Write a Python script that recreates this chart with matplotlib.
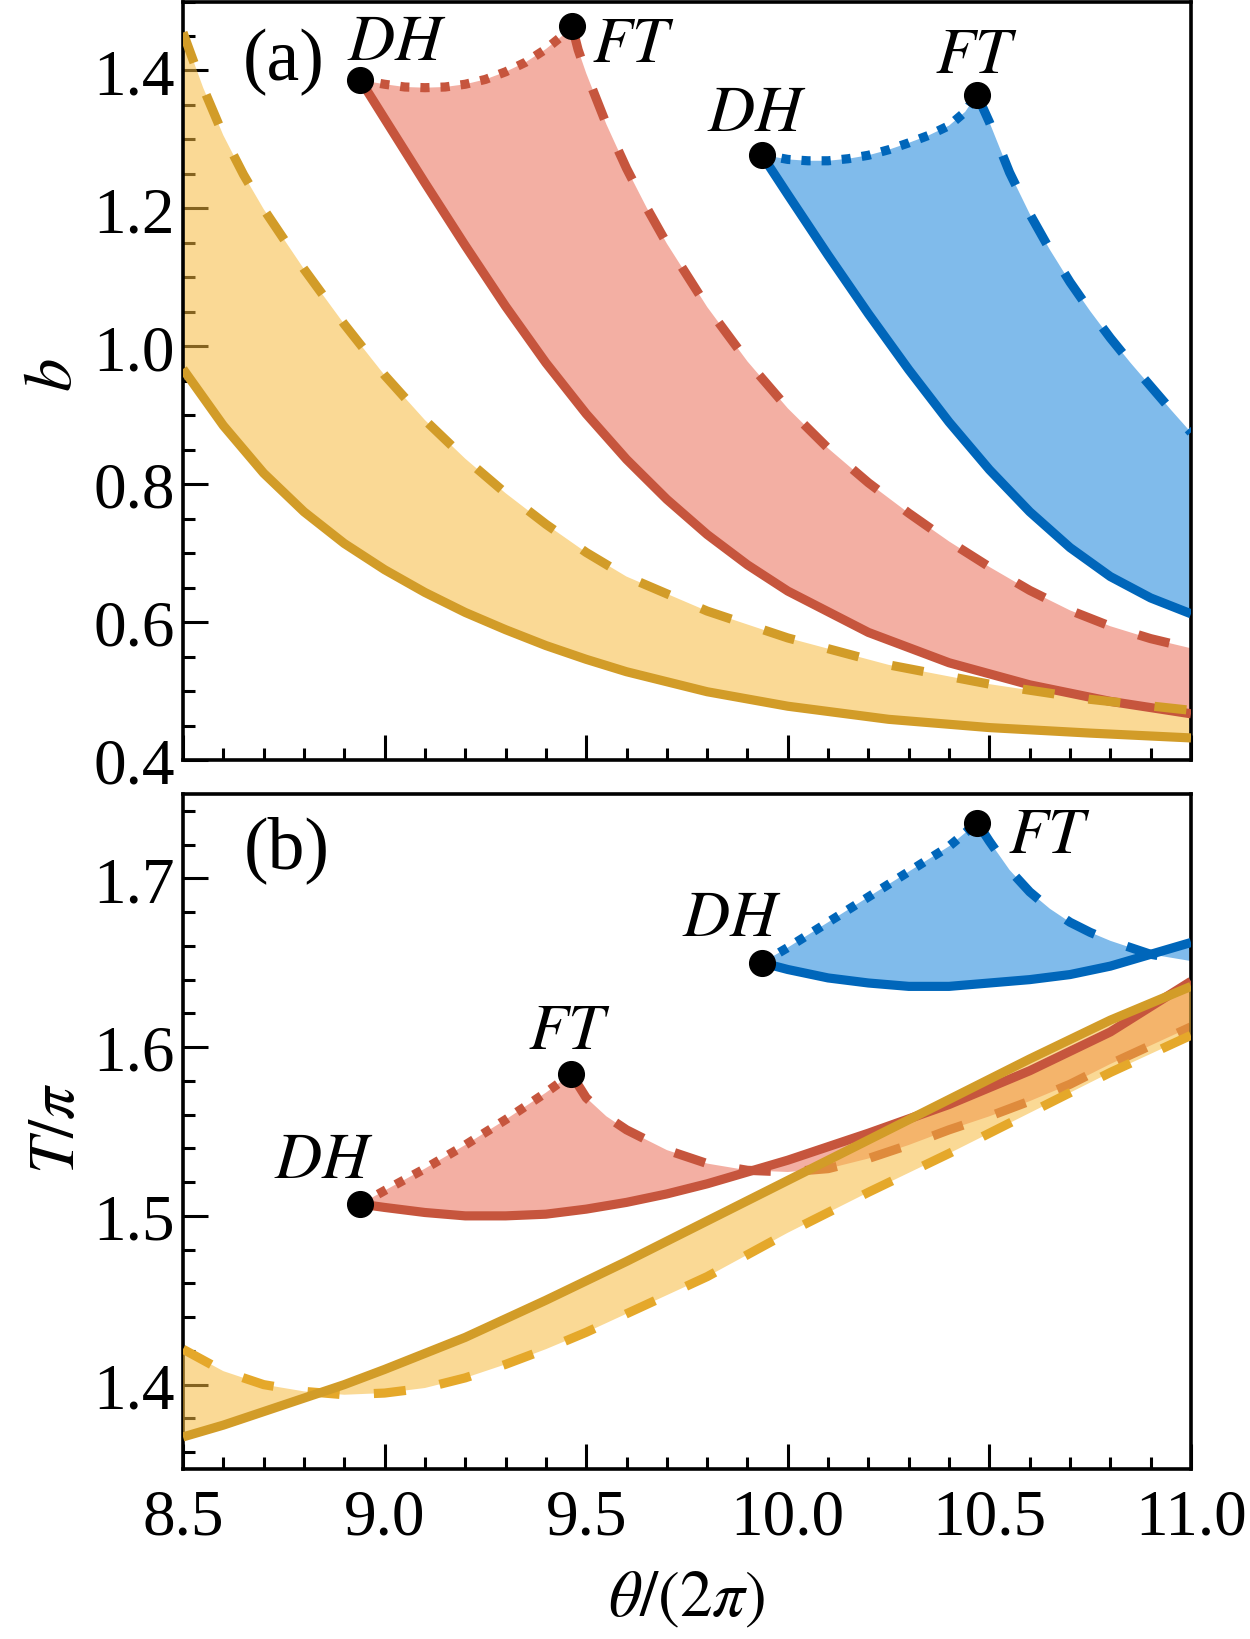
import numpy as np
import matplotlib
matplotlib.use("Agg")
import matplotlib.pyplot as plt
from matplotlib.ticker import MultipleLocator, FormatStrFormatter

plt.rcParams['font.family'] = ['Liberation Serif', 'STIXGeneral', 'DejaVu Serif']
plt.rcParams['mathtext.fontset'] = 'stix'

# ---------------- data: panel (a) ----------------
a_yel_solid_x = [8.5, 8.6, 8.7, 8.8, 8.9, 9.0, 9.1, 9.2, 9.3, 9.4, 9.5, 9.6, 9.8, 10.0, 10.25, 10.5, 10.75, 11.0]
a_yel_solid_y = [0.967, 0.885, 0.816, 0.760, 0.714, 0.676, 0.643, 0.614, 0.589, 0.566, 0.546, 0.528, 0.499, 0.478, 0.459, 0.447, 0.439, 0.432]
a_yel_dash_x = [8.5, 8.55, 8.6, 8.65, 8.7, 8.8, 8.9, 9.0, 9.1, 9.2, 9.3, 9.4, 9.5, 9.6, 9.8, 10.0, 10.25, 10.5, 10.75, 11.0]
a_yel_dash_y = [1.455, 1.375, 1.306, 1.249, 1.199, 1.112, 1.032, 0.958, 0.893, 0.837, 0.787, 0.742, 0.701, 0.666, 0.616, 0.577, 0.538, 0.510, 0.488, 0.472]

a_red_solid_x = [8.94, 9.0, 9.1, 9.2, 9.3, 9.4, 9.5, 9.6, 9.7, 9.8, 9.9, 10.0, 10.2, 10.4, 10.6, 10.8, 11.0]
a_red_solid_y = [1.386, 1.330, 1.237, 1.146, 1.058, 0.976, 0.902, 0.836, 0.778, 0.727, 0.683, 0.645, 0.585, 0.541, 0.509, 0.485, 0.467]
a_red_dot_x = [8.94, 9.0, 9.05, 9.1, 9.15, 9.2, 9.25, 9.3, 9.35, 9.4, 9.44, 9.465]
a_red_dot_y = [1.386, 1.380, 1.376, 1.375, 1.376, 1.380, 1.387, 1.398, 1.412, 1.431, 1.450, 1.464]
a_red_dash_x = [9.465, 9.48, 9.5, 9.55, 9.6, 9.65, 9.7, 9.8, 9.9, 10.0, 10.1, 10.2, 10.3, 10.4, 10.5, 10.6, 10.7, 10.8, 10.9, 11.0]
a_red_dash_y = [1.464, 1.430, 1.396, 1.322, 1.258, 1.201, 1.149, 1.057, 0.978, 0.910, 0.852, 0.802, 0.758, 0.717, 0.680, 0.646, 0.617, 0.594, 0.576, 0.562]

a_blu_solid_x = [9.935, 10.0, 10.1, 10.2, 10.3, 10.4, 10.5, 10.6, 10.7, 10.8, 10.9, 11.0]
a_blu_solid_y = [1.278, 1.220, 1.132, 1.047, 0.966, 0.890, 0.821, 0.760, 0.708, 0.666, 0.635, 0.612]
a_blu_dot_x = [9.935, 10.0, 10.05, 10.1, 10.15, 10.2, 10.25, 10.3, 10.35, 10.4, 10.44, 10.469]
a_blu_dot_y = [1.278, 1.271, 1.269, 1.269, 1.272, 1.277, 1.285, 1.295, 1.306, 1.320, 1.340, 1.365]
a_blu_dash_x = [10.469, 10.5, 10.55, 10.6, 10.65, 10.7, 10.75, 10.8, 10.85, 10.9, 10.95, 11.0]
a_blu_dash_y = [1.365, 1.325, 1.252, 1.192, 1.140, 1.093, 1.051, 1.012, 0.976, 0.942, 0.908, 0.875]

# ---------------- data: panel (b) ----------------
b_yel_solid_x = [8.5, 8.6, 8.7, 8.8, 8.9, 9.0, 9.2, 9.4, 9.6, 9.8, 10.0, 10.2, 10.4, 10.6, 10.8, 11.0]
b_yel_solid_y = [1.369, 1.376, 1.384, 1.392, 1.400, 1.409, 1.428, 1.450, 1.473, 1.497, 1.521, 1.545, 1.569, 1.593, 1.616, 1.636]
b_yel_dash_x = [8.5, 8.6, 8.7, 8.8, 8.9, 9.0, 9.1, 9.2, 9.3, 9.4, 9.5, 9.6, 9.7, 9.8, 9.9, 10.0, 10.2, 10.4, 10.6, 10.8, 11.0]
b_yel_dash_y = [1.421, 1.408, 1.400, 1.396, 1.394, 1.395, 1.398, 1.404, 1.412, 1.421, 1.431, 1.442, 1.453, 1.464, 1.477, 1.490, 1.514, 1.537, 1.561, 1.585, 1.607]

b_red_solid_x = [8.94, 9.0, 9.1, 9.2, 9.3, 9.4, 9.5, 9.6, 9.7, 9.8, 9.9, 10.0, 10.2, 10.4, 10.6, 10.8, 11.0]
b_red_solid_y = [1.507, 1.505, 1.502, 1.500, 1.500, 1.501, 1.504, 1.508, 1.513, 1.519, 1.526, 1.533, 1.549, 1.566, 1.586, 1.609, 1.639]
b_red_dot_x = [8.94, 9.0, 9.1, 9.2, 9.3, 9.4, 9.463]
b_red_dot_y = [1.507, 1.515, 1.528, 1.542, 1.557, 1.573, 1.584]
b_red_dash_x = [9.463, 9.5, 9.55, 9.6, 9.7, 9.8, 9.9, 10.0, 10.1, 10.2, 10.3, 10.4, 10.5, 10.6, 10.7, 10.8, 10.9, 11.0]
b_red_dash_y = [1.584, 1.570, 1.559, 1.551, 1.539, 1.531, 1.527, 1.526, 1.528, 1.534, 1.542, 1.551, 1.559, 1.568, 1.578, 1.590, 1.601, 1.612]

b_blu_solid_x = [9.936, 10.0, 10.1, 10.2, 10.3, 10.4, 10.5, 10.6, 10.7, 10.8, 10.9, 11.0]
b_blu_solid_y = [1.650, 1.646, 1.641, 1.638, 1.636, 1.636, 1.638, 1.640, 1.643, 1.648, 1.655, 1.662]
b_blu_dot_x = [9.936, 10.0, 10.1, 10.2, 10.3, 10.4, 10.47]
b_blu_dot_y = [1.650, 1.659, 1.674, 1.689, 1.704, 1.719, 1.733]
b_blu_dash_x = [10.47, 10.5, 10.55, 10.6, 10.65, 10.7, 10.75, 10.8, 10.85, 10.9, 10.95, 11.0]
b_blu_dash_y = [1.733, 1.722, 1.705, 1.692, 1.682, 1.674, 1.668, 1.663, 1.659, 1.655, 1.653, 1.651]

x_ticks = [8.5, 9.0, 9.5, 10.0, 10.5, 11.0]
a_yticks = [0.4, 0.6, 0.8, 1.0, 1.2, 1.4]
b_yticks = [1.4, 1.5, 1.6, 1.7]

# ---------------- styles ----------------
YEL = '#D29C28'
YEL_B_DASH = '#E5A82A'
YEL_FILL = '#F6B93C'
YEL_ALPHA = 0.54
RED = '#C6553D'
RED_FILL = '#F3AFA3'
BLU = '#0066BA'
BLU_FILL = '#80BBEB'
LW = 6.6
DASH = (3.5, 3.75)
DOT = (1.0, 1.2)
MS = 18.5

W, H = 1250, 1640
fig = plt.figure(figsize=(W / 100, H / 100), dpi=100)
ax1 = fig.add_axes([183 / W, 1 - 761 / H, 1008 / W, 758.5 / H])
ax2 = fig.add_axes([183 / W, 1 - 1470 / H, 1008 / W, 675 / H])


def region(ax, dx, dy, hx, hy, sx, sy, fillc, alpha=1.0, z=1):
    px = list(dx) + list(hx) + list(sx)[::-1]
    py = list(dy) + list(hy) + list(sy)[::-1]
    ax.fill(px, py, color=fillc, alpha=alpha, lw=0, zorder=z)


def band(ax, ux, uy, lx, ly, fillc, alpha, z):
    px = list(ux) + list(lx)[::-1]
    py = list(uy) + list(ly)[::-1]
    ax.fill(px, py, color=fillc, alpha=alpha, lw=0, zorder=z)


def line(ax, x, y, c, style, z):
    if style == 'solid':
        ax.plot(x, y, color=c, lw=LW, solid_capstyle='butt', solid_joinstyle='round', zorder=z)
    elif style == 'dash':
        ax.plot(x, y, color=c, lw=LW, dashes=DASH, dash_capstyle='butt', zorder=z)
    else:
        ax.plot(x, y, color=c, lw=LW, dashes=DOT, dash_capstyle='butt', zorder=z)


# ---------- panel (a) ----------
region(ax1, a_red_dot_x, a_red_dot_y, a_red_dash_x, a_red_dash_y,
       a_red_solid_x, a_red_solid_y, RED_FILL, 1.0, 1)
region(ax1, a_blu_dot_x, a_blu_dot_y, a_blu_dash_x, a_blu_dash_y,
       a_blu_solid_x, a_blu_solid_y, BLU_FILL, 1.0, 1)
band(ax1, a_yel_dash_x, a_yel_dash_y, a_yel_solid_x, a_yel_solid_y, YEL_FILL, YEL_ALPHA, 2)
line(ax1, a_red_solid_x, a_red_solid_y, RED, 'solid', 3)
line(ax1, a_red_dot_x, a_red_dot_y, RED, 'dot', 3)
line(ax1, a_red_dash_x, a_red_dash_y, RED, 'dash', 3)
line(ax1, a_blu_solid_x, a_blu_solid_y, BLU, 'solid', 3)
line(ax1, a_blu_dot_x, a_blu_dot_y, BLU, 'dot', 3)
line(ax1, a_blu_dash_x, a_blu_dash_y, BLU, 'dash', 3)
line(ax1, a_yel_solid_x, a_yel_solid_y, YEL, 'solid', 4)
line(ax1, a_yel_dash_x, a_yel_dash_y, YEL, 'dash', 4)
pts_a = [(a_red_dot_x[0], a_red_dot_y[0]), (a_red_dot_x[-1], a_red_dot_y[-1]),
         (a_blu_dot_x[0], a_blu_dot_y[0]), (a_blu_dot_x[-1], a_blu_dot_y[-1])]
ax1.plot([p[0] for p in pts_a], [p[1] for p in pts_a], 'o', color='black', ms=MS, zorder=6,
         clip_on=False)

# ---------- panel (b) ----------
region(ax2, b_red_dot_x, b_red_dot_y, b_red_dash_x, b_red_dash_y,
       b_red_solid_x, b_red_solid_y, RED_FILL, 1.0, 1)
region(ax2, b_blu_dot_x, b_blu_dot_y, b_blu_dash_x, b_blu_dash_y,
       b_blu_solid_x, b_blu_solid_y, BLU_FILL, 1.0, 1)
line(ax2, b_red_dash_x, b_red_dash_y, RED, 'dash', 2)
band(ax2, b_yel_dash_x, b_yel_dash_y, b_yel_solid_x, b_yel_solid_y, YEL_FILL, YEL_ALPHA, 3)
line(ax2, b_yel_dash_x, b_yel_dash_y, YEL_B_DASH, 'dash', 4)
line(ax2, b_red_solid_x, b_red_solid_y, RED, 'solid', 4)
line(ax2, b_red_dot_x, b_red_dot_y, RED, 'dot', 4)
line(ax2, b_yel_solid_x, b_yel_solid_y, YEL, 'solid', 5)
line(ax2, b_blu_solid_x, b_blu_solid_y, BLU, 'solid', 4)
line(ax2, b_blu_dot_x, b_blu_dot_y, BLU, 'dot', 4)
line(ax2, b_blu_dash_x, b_blu_dash_y, BLU, 'dash', 4)
pts_b = [(b_red_dot_x[0], b_red_dot_y[0]), (b_red_dot_x[-1], b_red_dot_y[-1]),
         (b_blu_dot_x[0], b_blu_dot_y[0]), (b_blu_dot_x[-1], b_blu_dot_y[-1])]
ax2.plot([p[0] for p in pts_b], [p[1] for p in pts_b], 'o', color='black', ms=MS, zorder=6,
         clip_on=False)

# labels DH / FT
LBL = 47
def lab(ax, pt, txt, dx, dy):
    ax.annotate(txt, xy=pt, xytext=(dx, dy), textcoords='offset points',
                ha='center', va='baseline', fontsize=LBL, zorder=7)

lab(ax1, pts_a[0], r'$DH$', 26.5, 15)
lab(ax1, pts_a[1], r'$FT$', 44.5, -25)
lab(ax1, pts_a[2], r'$DH$', -3.5, 18)
lab(ax1, pts_a[3], r'$FT$', 0, 16)
lab(ax2, pts_b[0], r'$DH$', -26.5, 19.5)
lab(ax2, pts_b[1], r'$FT$', -1.5, 18.5)
lab(ax2, pts_b[2], r'$DH$', -21.5, 20)
lab(ax2, pts_b[3], r'$FT$', 52, -21)

# ---------- axes formatting ----------
for ax in (ax1, ax2):
    ax.set_xlim(8.5, 11.0)
    ax.xaxis.set_major_locator(MultipleLocator(0.5))
    ax.xaxis.set_minor_locator(MultipleLocator(0.1))
    ax.xaxis.set_major_formatter(FormatStrFormatter('%.1f'))
    ax.yaxis.set_major_formatter(FormatStrFormatter('%.1f'))
    ax.tick_params(which='both', direction='in', top=False, right=False, width=2.2,
                   labelsize=47)
    ax.tick_params(which='major', length=18)
    ax.tick_params(which='minor', length=8.6)
    ax.tick_params(axis='y', pad=6)
    ax.tick_params(axis='x', pad=14)
    for s in ax.spines.values():
        s.set_linewidth(2.6)

ax1.set_ylim(0.4, 1.5)
ax1.set_yticks(a_yticks)
ax1.yaxis.set_minor_locator(MultipleLocator(0.05))
ax1.tick_params(axis='x', labelbottom=False)
ax2.set_ylim(1.35, 1.75)
ax2.set_yticks(b_yticks)
ax2.yaxis.set_minor_locator(MultipleLocator(0.02))
ax2.set_xticks(x_ticks)

ax1.text(0.0997, 0.921, '(a)', transform=ax1.transAxes, ha='center', va='center', fontsize=53)
ax2.text(0.1027, 0.9185, '(b)', transform=ax2.transAxes, ha='center', va='center', fontsize=53)

fig.text(55 / W, 1 - 375 / H, r'$b$', rotation=90, ha='center', va='center', fontsize=48)
fig.text(58 / W, 1 - 1128 / H, r'$T/\pi$', rotation=90, ha='center', va='center', fontsize=47)
fig.text(687 / W, 1 - 1600 / H, r'$\theta/(2\pi)$', ha='center', va='center', fontsize=47)

fig.savefig('out.png', dpi=100)
